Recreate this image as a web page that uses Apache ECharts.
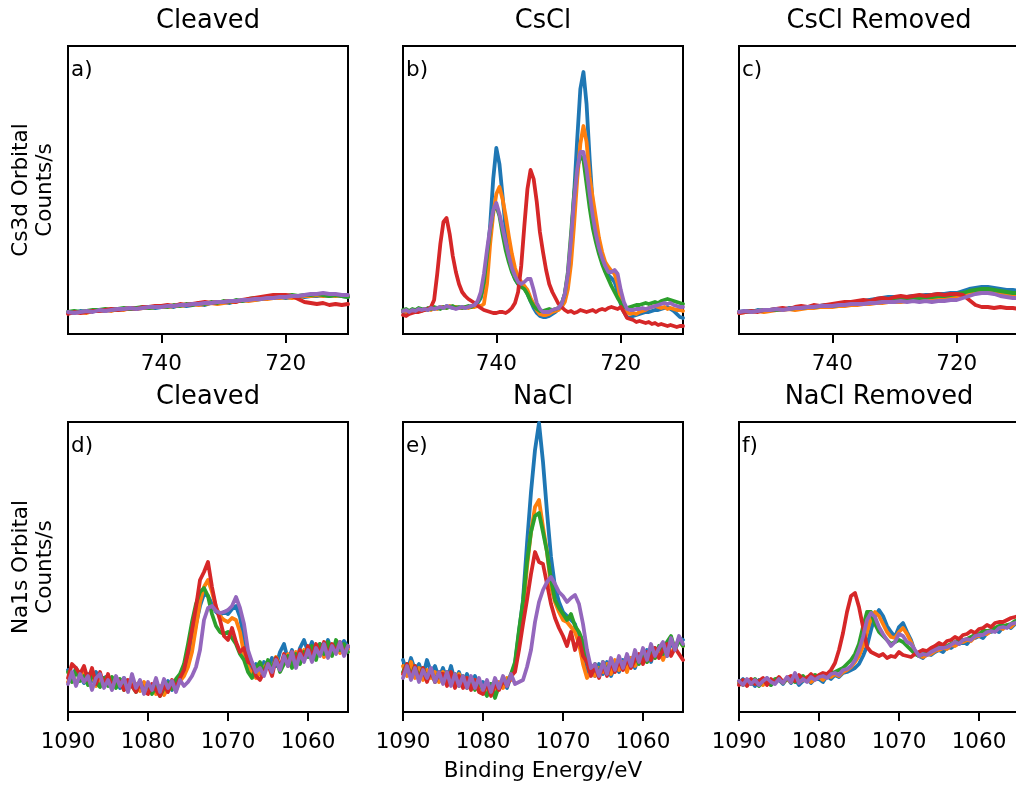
<!DOCTYPE html>
<html><head><meta charset="utf-8">
<script src="https://cdn.jsdelivr.net/npm/echarts@6/dist/echarts.min.js"></script>
<style>html,body{margin:0;padding:0;background:#fff}#c{width:1016px;height:787px}</style>
</head><body><div id="c"></div><script>
// ---- Energy grids (binding energy, eV) ----
const E_TOP_FINE = [755,754.5,754,753.5,753,752.5,752,751.5,751,750.5,750,749.5,749,748.5,748,747.5,747,746.5,746,745.5,745,744.5,744,743.5,743,742.5,742,741.5,741,740.5,740,739.5,739,738.5,738,737.5,737,736.5,736,735.5,735,734.5,734,733.5,733,732.5,732,731.5,731,730.5,730,729.5,729,728.5,728,727.5,727,726.5,726,725.5,725,724.5,724,723.5,723,722.5,722,721.5,721,720.5,720,719.5,719,718.5,718,717.5,717,716.5,716,715.5,715,714.5,714,713.5,713,712.5,712,711.5,711,710.5,710];
const E_TOP_COARSE = [755,754,753,752,751,750,749,748,747,746,745,744,743,742,741,740,739,738,737,736,735,734,733,732,731,730,729,728,727,726,725,724,723,722,721,720,719,718,717,716,715,714,713,712,711,710];
const E_BOTTOM = [1090,1089.5,1089,1088.5,1088,1087.5,1087,1086.5,1086,1085.5,1085,1084.5,1084,1083.5,1083,1082.5,1082,1081.5,1081,1080.5,1080,1079.5,1079,1078.5,1078,1077.5,1077,1076.5,1076,1075.5,1075,1074.5,1074,1073.5,1073,1072.5,1072,1071.5,1071,1070.5,1070,1069.5,1069,1068.5,1068,1067.5,1067,1066.5,1066,1065.5,1065,1064.5,1064,1063.5,1063,1062.5,1062,1061.5,1061,1060.5,1060,1059.5,1059,1058.5,1058,1057.5,1057,1056.5,1056,1055.5,1055];

// ---- Tick labels ----
const TICKS_TOP = [740, 720];
const TICKS_BOTTOM = [1090, 1080, 1070, 1060];

// ---- Titles / labels ----
const TITLES = ['Cleaved','CsCl','CsCl Removed','Cleaved','NaCl','NaCl Removed'];
const LETTERS = ['a)','b)','c)','d)','e)','f)'];
const YLABELS = ['Cs3d Orbital\nCounts/s','Na1s Orbital\nCounts/s'];
const XLABEL = 'Binding Energy/eV';
const SERIES_NAMES = ['Scan 1','Scan 2','Scan 3','Scan 4','Scan 5'];

// ---- a) Cs3d, Cleaved (counts, a.u.) ----
const a_blue   = [22,21,23,22,23,24,23,25,24,25,25,26,26,27,26,27,28,27,29,28,29,30,29,31,31,32,31,33,33,34,34,35,36,36,37,36,37,38,37,38,38,39,38,39,38,37];
const a_orange = [21,22,22,21,23,23,24,23,25,24,26,25,26,26,27,27,27,28,28,29,30,29,30,31,30,31,32,32,34,33,34,35,35,36,36,37,36,37,38,38,39,38,39,38,39,38];
const a_green  = [22,23,22,23,24,24,25,24,25,26,25,26,27,26,27,28,27,29,28,30,29,31,30,32,31,33,32,34,33,35,36,35,37,36,38,38,39,38,39,39,40,39,38,39,38,37];
const a_red    = [20,22,21,22,23,23,24,25,24,25,26,25,27,27,28,28,29,28,30,29,30,31,32,31,32,32,33,32,34,35,36,37,38,39,39,39,38,35,32,31,30,31,29,30,29,30];
const a_purple = [22,21,22,23,22,24,23,24,25,25,26,25,26,27,27,27,28,28,29,29,30,30,31,31,32,32,33,33,34,34,35,35,36,36,37,37,38,38,39,40,40,41,40,40,39,39];

// ---- b) Cs3d, CsCl ----
const b_blue   = [22,21,23,22,24,23,24,25,24,26, 25,26,27,26,28,27,26,27,26,27, 26,27,28,29,31,36,48,72,108,155, 186,170,138,105,80,64,55,50,48,46, 40,33,26,21,18,17,17,18,20,22, 25,30,40,58,90,140,195,245,262,230, 175,128,100,84,74,65,59,56,52,42, 30,22,17,16,18,19,20,21,22,22, 23,24,24,25,26,27,25,23,20,17, 16];
const b_orange = [23,22,22,23,24,24,23,25,25,24, 26,25,27,27,26,28,27,27,26,26, 27,26,27,27,28,28,30,50,90,120, 140,147,135,118,98,80,66,57,52,48, 44,36,30,24,20,19,19,20,22,23, 24,27,32,45,70,110,155,190,208,192, 157,136,116,96,82,72,67,63,60,50, 35,26,22,20,21,20,22,23,24,26, 27,28,27,26,27,25,26,25,24,24, 23];
const b_green  = [24,25,23,25,24,26,25,24,26,25, 27,26,25,27,26,27,28,26,27,26, 27,28,27,29,32,38,52,78,104,124, 128,118,100,84,72,62,55,50,47,45, 40,33,28,25,23,23,24,25,24,25, 26,30,40,62,100,140,166,178,174,150, 126,106,92,80,70,62,55,48,42,36, 31,27,26,27,28,29,29,30,31,30, 31,32,31,33,34,35,34,33,32,31, 30];
const b_red    = [19,18,20,21,22,22,23,24,25,27, 34,60,90,112,116,100,78,62,50,42, 38,35,33,31,28,26,24,23,22,21, 21,22,22,21,23,26,31,42,68,108, 145,164,155,132,102,82,64,50,42,36, 30,27,24,22,23,21,22,24,23,22, 23,24,22,24,25,24,26,27,26,25, 27,22,16,15,14,12,13,12,11,12, 10,11,9,10,9,8,9,8,7,8, 8];
const b_purple = [23,24,22,24,23,25,24,25,24,26, 25,26,27,26,28,27,26,25,26,27, 26,27,28,29,33,42,60,84,106,124, 131,120,106,92,78,66,58,52,50,52, 55,55,44,31,25,22,22,22,24,25, 26,30,40,60,95,135,165,182,182,165, 140,118,100,86,76,68,62,62,64,60, 44,32,25,24,24,25,25,26,25,26, 27,28,29,30,31,30,31,29,28,27, 27];

// ---- c) Cs3d, CsCl Removed ----
const c_blue   = [22,23,22,24,23,24,25,24,26,26,27,26,28,28,29,29,30,31,32,32,33,34,35,36,37,37,36,37,38,38,39,39,40,40,41,41,43,45,46,47,47,46,45,44,44,43];
const c_orange = [21,22,22,23,22,23,24,24,25,24,25,26,26,27,27,27,28,28,29,29,30,30,31,31,32,32,32,33,33,34,34,35,36,36,37,38,39,40,41,42,42,41,40,39,38,38];
const c_green  = [22,22,23,23,24,24,24,25,25,26,26,27,27,28,28,28,29,30,30,31,32,32,33,34,34,35,34,35,36,36,37,37,38,38,39,40,41,43,44,45,45,44,43,42,41,41];
const c_red    = [21,22,23,22,24,24,25,26,25,27,28,27,29,28,29,30,31,32,32,33,34,33,35,36,35,37,38,37,38,39,38,39,40,39,40,40,39,34,29,27,27,26,27,26,26,25];
const c_purple = [22,23,22,23,24,24,25,24,25,26,26,27,27,28,28,28,29,29,30,30,30,31,31,32,32,32,33,32,33,32,33,32,33,33,34,34,36,38,40,41,41,40,38,37,36,36];

// ---- d) Na1s, Cleaved ----
const d_blue   = [42,33,44,36,29,38,31,40,30,34, 36,26,33,24,34,28,31,22,30,25, 28,20,29,22,25,31,22,30,34,40, 50,66,88,106,118,116,108,100,97,100, 98,103,106,95,72,52,42,48,38,50, 44,54,46,60,68,52,62,50,64,72, 60,70,58,68,62,72,60,70,64,71, 65];
const d_orange = [30,38,28,36,40,28,38,26,36,28, 34,24,35,27,32,22,30,28,21,30, 20,27,18,26,17,24,28,22,31,36, 45,60,85,110,125,132,120,105,96,92, 90,94,92,80,58,45,38,34,40,44, 50,42,55,46,52,58,48,60,54,62, 56,64,58,66,55,65,60,68,59,66, 63];
const d_green  = [40,30,42,31,36,27,38,30,25,34, 26,35,24,33,22,30,26,20,31,19, 28,18,26,16,24,29,23,33,38,48, 68,90,108,120,124,116,98,86,80,78, 80,74,68,58,52,40,34,44,50,38, 52,42,54,40,48,56,44,58,48,60, 55,66,52,68,58,70,56,72,62,68, 60];
const d_red    = [34,48,44,38,46,32,44,28,40,26, 38,24,34,30,22,32,26,20,30,21, 18,28,22,16,27,20,32,24,34,42, 60,82,105,132,140,150,125,105,92,76, 72,84,70,60,64,50,48,36,32,40, 48,36,54,44,58,46,60,50,62,52, 66,54,68,58,70,56,68,60,70,58, 66];
const d_purple = [28,40,26,38,30,36,22,34,38,24, 32,22,36,26,34,20,38,24,32,18, 30,22,34,20,33,24,31,20,32,26, 30,36,45,62,92,104,106,101,99,100, 102,106,115,104,88,62,50,40,44,36, 48,40,52,42,56,46,60,44,58,50, 62,50,64,56,68,54,66,58,70,56, 66];

// ---- e) Na1s, NaCl ----
const e_blue   = [52,40,54,42,48,36,52,40,46,34, 44,32,46,30,40,28,38,26,36,24, 30,20,28,18,26,32,24,36,48,80, 112,168,220,262,289,250,200,155,125,110, 100,96,92,88,72,52,38,46,36,48, 38,50,36,46,40,52,42,54,44,56, 52,62,50,64,58,66,56,70,62,74, 72];
const e_orange = [46,36,50,34,44,32,42,34,40,30, 40,30,36,26,38,28,34,24,32,22, 26,18,24,16,30,24,34,32,46,72, 100,145,180,205,212,185,160,125,110,100, 92,90,85,80,68,48,34,40,36,44, 40,48,38,52,42,50,40,54,46,52, 56,50,60,54,64,52,62,58,66,72, 66];
const e_green  = [40,48,36,46,34,44,32,42,30,40, 30,40,28,38,26,36,24,34,22,30, 22,16,28,14,26,30,28,38,50,82, 110,150,180,196,199,180,160,132,112,104, 98,92,98,86,80,70,50,40,48,38, 50,40,52,42,54,44,56,46,58,48, 60,50,62,54,66,58,70,76,62,72, 66];
const e_red    = [38,48,34,46,32,44,30,42,30,38, 38,26,40,24,36,24,34,22,32,20, 18,30,16,28,22,32,26,36,40,62, 88,112,138,160,150,148,128,108,94,84, 76,66,80,62,74,56,50,36,46,34, 48,36,50,40,52,42,54,44,52,58, 48,60,52,64,54,62,68,56,64,58, 52];
const e_purple = [34,46,32,44,30,42,34,44,30,40, 28,40,26,38,26,36,24,36,24,34, 22,32,20,34,24,36,26,38,28,30, 32,45,62,90,110,122,130,135,128,120, 116,110,114,117,108,88,62,44,48,36, 50,38,54,42,56,44,58,46,62,50, 64,52,68,56,64,70,56,74,62,76, 68];

// ---- f) Na1s, NaCl Removed ----
const f_blue   = [29,33,27,31,26,32,28,34,27,31, 32,28,34,29,33,27,31,34,29,33, 33,30,36,33,37,35,39,40,42,44, 48,56,66,82,96,102,96,86,80,75, 85,89,80,72,60,56,54,58,57,60, 62,60,65,64,67,68,70,68,73,74, 76,74,79,80,82,80,85,86,84,88, 89];
const f_orange = [30,27,32,28,32,29,27,32,28,31, 33,29,33,30,34,30,32,35,30,33, 35,32,36,35,38,36,40,42,45,50, 56,66,80,94,100,96,88,80,75,74, 80,84,78,70,60,56,55,57,58,61, 62,64,63,67,66,69,70,72,71,75, 76,78,78,81,81,84,83,87,85,89, 89];
const f_green  = [31,27,32,28,33,26,32,29,27,33, 34,29,33,35,30,34,36,31,35,37, 35,38,35,39,40,42,44,48,52,58, 68,85,100,100,88,80,76,72,68,70, 72,70,66,62,58,56,58,60,62,63, 65,65,66,68,70,72,72,73,75,77, 78,81,81,82,84,86,86,87,88,91, 91];
const f_red    = [27,32,26,33,28,31,34,27,33,29, 35,30,34,36,31,37,33,34,38,34, 37,39,38,42,49,62,79,100,116,119, 105,85,65,60,58,56,58,54,56,55, 60,57,56,55,58,60,62,61,64,66, 69,67,71,72,75,73,77,78,81,79, 83,84,87,85,89,90,90,92,94,95, 96];
const f_purple = [31,27,33,28,32,27,31,34,30,28, 33,29,35,30,39,29,33,30,35,32, 35,36,34,38,39,37,42,43,46,52, 62,75,92,99,95,85,78,72,66,70, 78,76,70,68,62,56,58,57,60,62, 64,64,65,67,70,68,72,73,72,76, 77,77,80,81,80,84,85,84,88,89, 90];

// ---- build ----
const COLORS = ['#1f77b4','#ff7f0e','#2ca02c','#d62728','#9467bd'];
const FONT = '"DejaVu Sans", sans-serif';
const PANELS = [
  {E: E_TOP_COARSE, s: [a_blue,a_orange,a_green,a_red,a_purple], min: 710, max: 755, ticks: TICKS_TOP, ymax: 288},
  {E: E_TOP_FINE,   s: [b_blue,b_orange,b_green,b_red,b_purple], min: 710, max: 755, ticks: TICKS_TOP, ymax: 288},
  {E: E_TOP_COARSE, s: [c_blue,c_orange,c_green,c_red,c_purple], min: 710, max: 755, ticks: TICKS_TOP, ymax: 288},
  {E: E_BOTTOM, s: [d_blue,d_orange,d_green,d_red,d_purple], min: 1055, max: 1090, ticks: TICKS_BOTTOM, ymax: 290},
  {E: E_BOTTOM, s: [e_blue,e_orange,e_green,e_red,e_purple], min: 1055, max: 1090, ticks: TICKS_BOTTOM, ymax: 290},
  {E: E_BOTTOM, s: [f_blue,f_orange,f_green,f_red,f_purple], min: 1055, max: 1090, ticks: TICKS_BOTTOM, ymax: 290}
];
const COL_LEFT = [68, 403, 739];
const ROW_TOP = [46, 422];
const ROW_H = [288, 290];
const W = 280;
const TXT = 21.5, TTL = 25.7;

const grids = [], xAxes = [], yAxes = [], series = [], graphics = [];
PANELS.forEach((p, i) => {
  const col = i % 3, row = Math.floor(i / 3);
  const left = COL_LEFT[col], top = ROW_TOP[row], h = ROW_H[row];
  grids.push({left: left, top: top, width: W, height: h, show: true, borderColor: '#000', borderWidth: 2,
    backgroundColor: 'transparent', containLabel: false, outerBoundsMode: 'none'});
  xAxes.push({type: 'value', gridIndex: i, min: p.min, max: p.max, inverse: true,
    axisLine: {show: true, onZero: false, lineStyle: {color: '#000', width: 2}},
    axisTick: {show: true, inside: false, length: 9, lineStyle: {color: '#000', width: 2}, customValues: p.ticks},
    axisLabel: {show: true, customValues: p.ticks, margin: 19, color: '#000', fontSize: TXT, fontFamily: FONT,
      formatter: v => String(v)},
    splitLine: {show: false}});
  yAxes.push({type: 'value', gridIndex: i, min: 0, max: p.ymax, show: false});
  p.s.forEach((vals, k) => {
    series.push({type: 'line', name: SERIES_NAMES[k], xAxisIndex: i, yAxisIndex: i,
      data: p.E.map((e, j) => [e, vals[j]]),
      showSymbol: false, symbol: 'none', silent: true, animation: false,
      lineStyle: {width: 3.8, color: COLORS[k], join: 'round', cap: 'round'},
      itemStyle: {color: COLORS[k]}, z: 2 + k});
  });
  graphics.push({type: 'text', x: left + W / 2, y: top - 25,
    style: {text: TITLES[i], font: TTL + 'px ' + FONT, fill: '#000', align: 'center', verticalAlign: 'middle'}});
  graphics.push({type: 'text', x: left + 3, y: top + 24,
    style: {text: LETTERS[i], font: TXT + 'px ' + FONT, fill: '#000', align: 'left', verticalAlign: 'middle'}});
});
graphics.push({type: 'text', x: 33.5, y: 190, rotation: Math.PI / 2,
  style: {text: YLABELS[0], font: TXT + 'px ' + FONT, fill: '#000', align: 'center', verticalAlign: 'middle', lineHeight: 24}});
graphics.push({type: 'text', x: 33.5, y: 567, rotation: Math.PI / 2,
  style: {text: YLABELS[1], font: TXT + 'px ' + FONT, fill: '#000', align: 'center', verticalAlign: 'middle', lineHeight: 24}});
graphics.push({type: 'text', x: 543, y: 771,
  style: {text: XLABEL, font: TXT + 'px ' + FONT, fill: '#000', align: 'center', verticalAlign: 'middle'}});

const chart = echarts.init(document.getElementById('c'), null, {renderer: 'canvas'});
chart.setOption({animation: false, backgroundColor: '#fff', grid: grids, xAxis: xAxes, yAxis: yAxes, series: series, graphic: graphics});
</script></body></html>
